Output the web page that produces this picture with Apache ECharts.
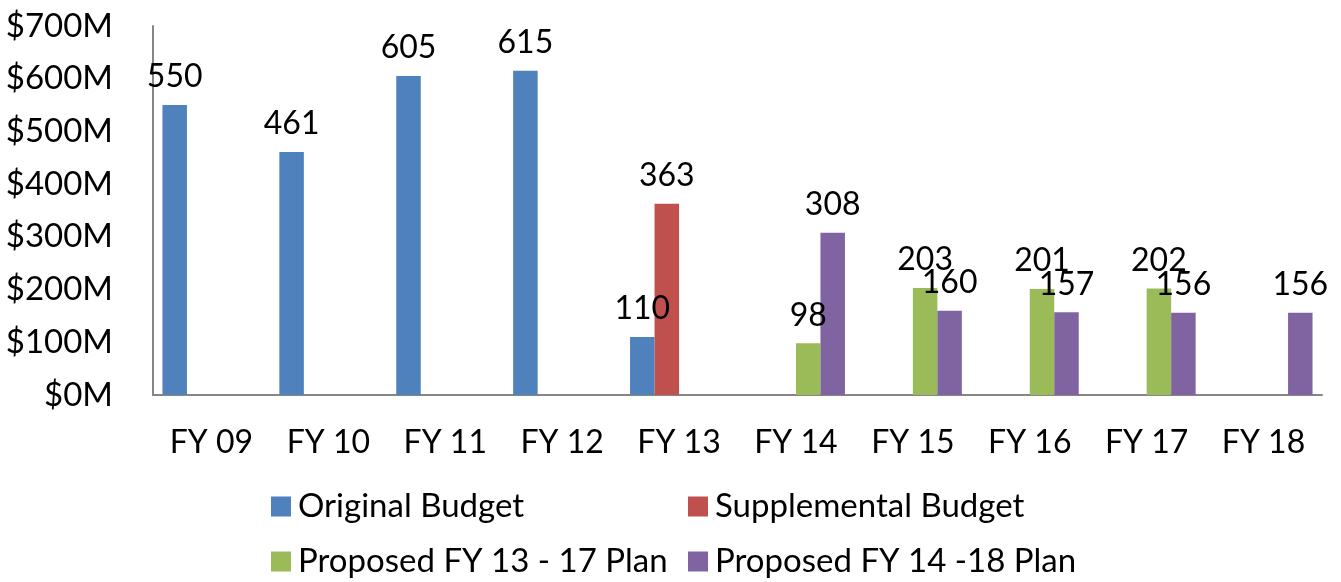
<!DOCTYPE html>
<html>
<head>
<meta charset="utf-8">
<title>Budget chart</title>
<script src="https://cdn.jsdelivr.net/npm/echarts@6/dist/echarts.min.js"></script>
<style>
  html, body { margin: 0; padding: 0; background: #fff; }
  #chart { width: 1341px; height: 582px; }
</style>
</head>
<body>
<div id="chart"></div>
<script>
// categories and values (in $M)
var years = ['FY 09', 'FY 10', 'FY 11', 'FY 12', 'FY 13', 'FY 14', 'FY 15', 'FY 16', 'FY 17', 'FY 18'];
var originalBudget = [550, 461, 605, 615, 110, null, null, null, null, null];
var supplementalBudget = [null, null, null, null, 363, null, null, null, null, null];
var plan1317 = [null, null, null, null, null, 98, 203, 201, 202, null];
var plan1418 = [null, null, null, null, null, 308, 160, 157, 156, 156];
var seriesNames = ['Original Budget', 'Supplemental Budget', 'Proposed FY 13 - 17 Plan', 'Proposed FY 14 -18 Plan'];
var colors = ['#4F81BD', '#C0504D', '#9BBB59', '#8064A2'];

var font = 'Lato';
var chart = echarts.init(document.getElementById('chart'));

function barSeries(name, data) {
  return {
    name: name,
    type: 'bar',
    data: data,
    barWidth: 24.5,
    barGap: '0%',
    label: {
      show: true,
      position: 'top',
      distance: 12,
      color: '#000',
      fontFamily: font,
      fontSize: 32
    }
  };
}

// one legend per item so the 2x2 layout matches
var legendPos = [[271, 490], [688, 490], [271, 545], [688, 545]];
var legends = seriesNames.map(function (n, i) {
  return {
    data: [n],
    left: legendPos[i][0],
    top: legendPos[i][1],
    icon: 'rect',
    itemWidth: 20,
    itemHeight: 20,
    padding: 0,
    selectedMode: false,
    textStyle: { fontFamily: font, fontSize: 33, color: '#000', padding: [0, 0, 0, 2] }
  };
});

var option = {
  animation: false,
  color: colors,
  legend: legends,
  grid: { left: 153, right: 19, top: 26, bottom: 187 },
  xAxis: {
    type: 'category',
    data: years,
    axisLine: { lineStyle: { color: '#868686', width: 2 } },
    axisTick: { show: false },
    axisLabel: { color: '#000', fontFamily: font, fontSize: 32, margin: 32 }
  },
  yAxis: {
    type: 'value',
    min: 0,
    max: 700,
    interval: 100,
    axisLine: { show: true, lineStyle: { color: '#868686', width: 2 } },
    axisTick: { show: false },
    splitLine: { show: false },
    axisLabel: {
      color: '#000', fontFamily: font, fontSize: 33, margin: 40,
      formatter: function (v) { return '$' + v + 'M'; }
    }
  },
  series: [
    barSeries(seriesNames[0], originalBudget),
    barSeries(seriesNames[1], supplementalBudget),
    barSeries(seriesNames[2], plan1317),
    barSeries(seriesNames[3], plan1418)
  ]
};

chart.setOption(option);
</script>
</body>
</html>
